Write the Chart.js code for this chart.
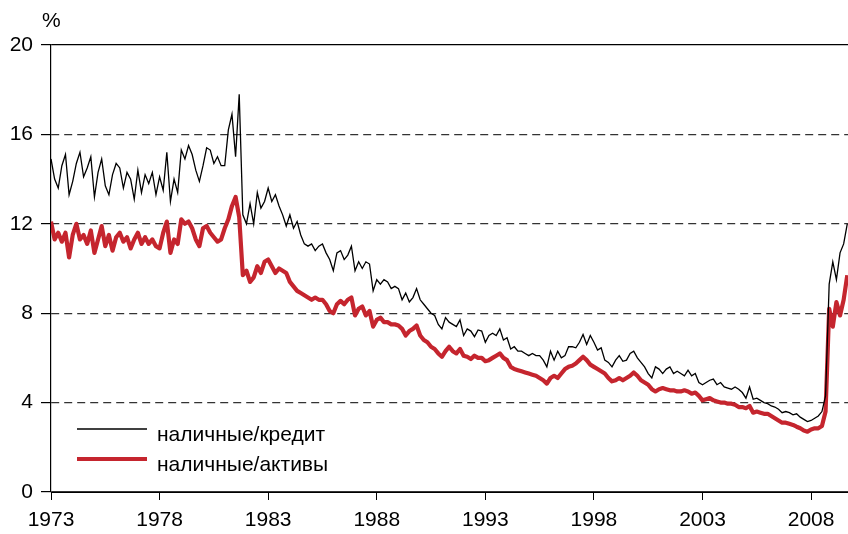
<!DOCTYPE html>
<html>
<head>
<meta charset="utf-8">
<script src="https://cdn.jsdelivr.net/npm/chart.js@4.4.1/dist/chart.umd.min.js"></script>
<style>
html,body{margin:0;padding:0;background:#fff;}
#wrap{width:848px;height:534px;}
</style>
</head>
<body>
<div id="wrap"><canvas id="c" width="848" height="534"></canvas></div>
<script>
// ---- data (bimonthly readings, starting Jan 1973) ----
const START_YEAR = 1973;
const PER_YEAR = 6;
const xTickYears = [1973, 1978, 1983, 1988, 1993, 1998, 2003, 2008];
const yTickValues = [0, 4, 8, 12, 16, 20];
const seriesNames = ['наличные/кредит', 'наличные/активы'];
const unitLabel = '%';

const cashToCredit = [
  14.9, 14.0, 13.6, 14.6, 15.1, 13.3,
  13.9, 14.7, 15.2, 14.1, 14.5, 15.0,
  13.2, 14.3, 14.9, 13.7, 13.3, 14.2,
  14.7, 14.5, 13.6, 14.3, 14.0, 13.1,
  14.4, 13.4, 14.2, 13.8, 14.3, 13.3,
  14.1, 13.5, 15.2, 13.0, 14.0, 13.4,
  15.3, 14.9, 15.5, 15.1, 14.4, 13.9,
  14.6, 15.4, 15.3, 14.7, 15.0, 14.6,
  14.6, 16.2, 16.9, 15.0, 17.8, 12.4,
  12.0, 12.9, 12.0, 13.4, 12.7, 13.0,
  13.6, 13.0, 13.3, 12.8, 12.4, 11.9,
  12.4, 11.8, 12.1, 11.5, 11.1, 11.0,
  11.1, 10.8, 11.0, 11.1, 10.7, 10.4,
  9.9, 10.7, 10.8, 10.4, 10.6, 11.0,
  9.9, 10.3, 10.0, 10.3, 10.2, 9.0,
  9.5, 9.3, 9.5, 9.4, 9.1, 9.2,
  9.1, 8.6, 8.9, 8.5, 8.7, 9.1,
  8.6, 8.4, 8.2, 8.0, 7.9, 7.5,
  7.3, 7.8, 7.6, 7.5, 7.4, 7.7,
  7.0, 7.3, 7.2, 6.95, 7.25, 7.2,
  6.7, 7.0, 7.1, 7.0, 7.3, 6.8,
  6.9, 6.4, 6.5, 6.3, 6.3, 6.2,
  6.1, 6.2, 6.1, 6.1, 5.9, 5.6,
  6.3, 5.9, 6.3, 6.0, 6.1, 6.5,
  6.5, 6.45, 6.7, 7.05, 6.6, 7.0,
  6.7, 6.35, 6.45, 5.9, 5.8, 5.6,
  5.9, 6.1, 5.85, 5.9, 6.2, 6.3,
  6.0, 5.8, 5.6, 5.3, 5.1, 5.6,
  5.5, 5.3, 5.5, 5.6, 5.3, 5.4,
  5.3, 5.2, 5.45, 5.2, 5.3, 4.9,
  4.8, 4.9, 5.0, 5.05, 4.8, 4.9,
  4.7, 4.65, 4.6, 4.7, 4.6, 4.45,
  4.2, 4.7, 4.15, 4.2, 4.1, 4.0,
  3.95, 3.85, 3.8, 3.7, 3.55, 3.6,
  3.55, 3.45, 3.5, 3.35, 3.25, 3.15,
  3.2, 3.3, 3.4, 3.6, 4.3, 9.3,
  10.3, 9.5, 10.7, 11.1, 12.0
];

const cashToAssets = [
  12.1, 11.3, 11.6, 11.2, 11.6, 10.5,
  11.5, 12.0, 11.3, 11.5, 11.1, 11.7,
  10.7, 11.3, 11.9, 11.0, 11.5, 10.8,
  11.4, 11.6, 11.2, 11.4, 10.9, 11.3,
  11.6, 11.1, 11.4, 11.1, 11.3, 11.0,
  10.9, 11.6, 12.1, 10.7, 11.3, 11.1,
  12.2, 12.0, 12.1, 11.8, 11.3, 11.0,
  11.8, 11.9, 11.6, 11.4, 11.2, 11.3,
  11.8, 12.2, 12.8, 13.2, 12.3, 9.7,
  9.9, 9.4, 9.6, 10.1, 9.8, 10.3,
  10.4, 10.1, 9.8, 10.0, 9.9, 9.8,
  9.4, 9.2, 9.0, 8.9, 8.8, 8.7,
  8.6, 8.7, 8.6, 8.6, 8.4, 8.1,
  8.0, 8.4, 8.55, 8.4, 8.6, 8.7,
  7.9, 8.2, 8.3, 7.9, 8.1, 7.4,
  7.7, 7.8, 7.6, 7.6, 7.5, 7.5,
  7.45, 7.3, 7.0, 7.2, 7.3, 7.45,
  7.0, 6.8, 6.7, 6.5, 6.4, 6.2,
  6.05, 6.3, 6.5, 6.3, 6.2, 6.4,
  6.1, 6.05, 5.95, 6.1, 6.0, 6.0,
  5.85, 5.9, 6.0, 6.1, 6.2, 6.0,
  5.9, 5.6, 5.5, 5.45, 5.4, 5.35,
  5.3, 5.25, 5.2, 5.1, 5.0, 4.85,
  5.1, 5.2, 5.1, 5.3, 5.5, 5.6,
  5.65, 5.75, 5.9, 6.05, 5.9, 5.7,
  5.6, 5.5, 5.4, 5.3, 5.1, 4.95,
  5.0, 5.1, 5.0, 5.1, 5.2, 5.35,
  5.2, 5.0, 4.9, 4.8, 4.6, 4.5,
  4.6, 4.65, 4.6, 4.55, 4.55, 4.5,
  4.5, 4.55, 4.5, 4.4, 4.45, 4.3,
  4.1, 4.15, 4.2, 4.1, 4.05, 4.0,
  4.0, 3.95, 3.95, 3.9, 3.8, 3.8,
  3.75, 3.85, 3.55, 3.6, 3.55, 3.5,
  3.5, 3.4, 3.3, 3.2, 3.1, 3.1,
  3.05, 3.0, 2.92, 2.85, 2.75, 2.7,
  2.8, 2.85, 2.85, 2.95, 3.6, 8.2,
  7.4, 8.5, 7.9, 8.6, 9.7
];

// ---- font choice ----
function pickFamily() {
  const c = document.createElement('canvas').getContext('2d');
  const s = '1973 наличные/кредит';
  c.font = "25px 'Liberation Sans Narrow', monospace";
  const a = c.measureText(s).width;
  c.font = "25px monospace";
  const b = c.measureText(s).width;
  return Math.abs(a - b) > 0.5 ? {fam: "'Liberation Sans Narrow', 'Liberation Sans', sans-serif", size: 25}
                               : {fam: "'Liberation Sans', Arial, sans-serif", size: 21};
}
const F = pickFamily();

const RED = '#c5252e';

const toPoints = arr => arr.map((v, i) => ({x: START_YEAR + i / PER_YEAR, y: v}));

const legendPlugin = {
  id: 'insideLegend',
  afterDatasetsDraw(chart) {
    const {ctx, chartArea} = chart;
    const x0 = chartArea.left + 26, x1 = chartArea.left + 96, tx = chartArea.left + 106;
    const rows = [chartArea.bottom - 63, chartArea.bottom - 33];
    chart.data.datasets.forEach((ds, i) => {
      const y = rows[i];
      ctx.save();
      ctx.strokeStyle = ds.borderColor;
      ctx.lineWidth = ds.borderWidth;
      ctx.lineCap = 'butt';
      ctx.beginPath(); ctx.moveTo(x0, y); ctx.lineTo(x1, y); ctx.stroke();
      ctx.fillStyle = '#000';
      ctx.font = F.size + 'px ' + F.fam;
      ctx.textAlign = 'left';
      ctx.textBaseline = 'alphabetic';
      ctx.fillText(ds.label, tx, y + 12);
      ctx.restore();
    });
  }
};

const unitPlugin = {
  id: 'unitLabel',
  afterDraw(chart) {
    const {ctx, chartArea} = chart;
    ctx.save();
    ctx.fillStyle = '#000';
    ctx.font = F.size + 'px ' + F.fam;
    ctx.textAlign = 'left';
    ctx.textBaseline = 'alphabetic';
    ctx.fillText(unitLabel, chartArea.left - 9, chartArea.top - 18);
    ctx.restore();
  }
};

new Chart(document.getElementById('c'), {
  type: 'line',
  data: {
    datasets: [
      {label: seriesNames[0], data: toPoints(cashToCredit), borderColor: '#000', borderWidth: 1.3,
       pointRadius: 0, tension: 0, borderJoinStyle: 'miter', order: 1},
      {label: seriesNames[1], data: toPoints(cashToAssets), borderColor: RED, borderWidth: 4.2,
       pointRadius: 0, tension: 0, borderJoinStyle: 'round', order: 2}
    ]
  },
  options: {
    responsive: false,
    animation: false,
    devicePixelRatio: 1,
    layout: {padding: {top: 45, right: 0, left: 0, bottom: 0}},
    plugins: {legend: {display: false}, tooltip: {enabled: false}, title: {display: false}},
    scales: {
      x: {
        type: 'linear', min: 1973, max: 2009.7,
        afterBuildTicks: s => { s.ticks = xTickYears.map(v => ({value: v})); },
        afterFit: s => { s.height = 42; },
        ticks: {callback: v => String(v), color: '#000', font: {family: F.fam, size: F.size},
                padding: 8, maxRotation: 0, autoSkip: false},
        grid: {drawOnChartArea: false, drawTicks: true, tickLength: 8, tickColor: '#000', tickWidth: 1},
        border: {color: '#000', width: 1}
      },
      y: {
        min: 0, max: 20,
        afterBuildTicks: s => { s.ticks = yTickValues.map(v => ({value: v})); },
        afterFit: s => { s.width = 51; },
        ticks: {color: '#000', font: {family: F.fam, size: F.size}, padding: 8},
        grid: {
          color: c => (c.tick && c.tick.value === 20) ? '#000' : '#333',
          lineWidth: 1.2,
          tickLength: 10, tickColor: '#000', tickWidth: 1.2
        },
        border: {color: '#000', width: 1.2,
                 dash: c => (c.tick && c.tick.value > 0 && c.tick.value < 20) ? [8, 5] : []}
      }
    }
  },
  plugins: [legendPlugin, unitPlugin]
});
</script>
</body>
</html>
